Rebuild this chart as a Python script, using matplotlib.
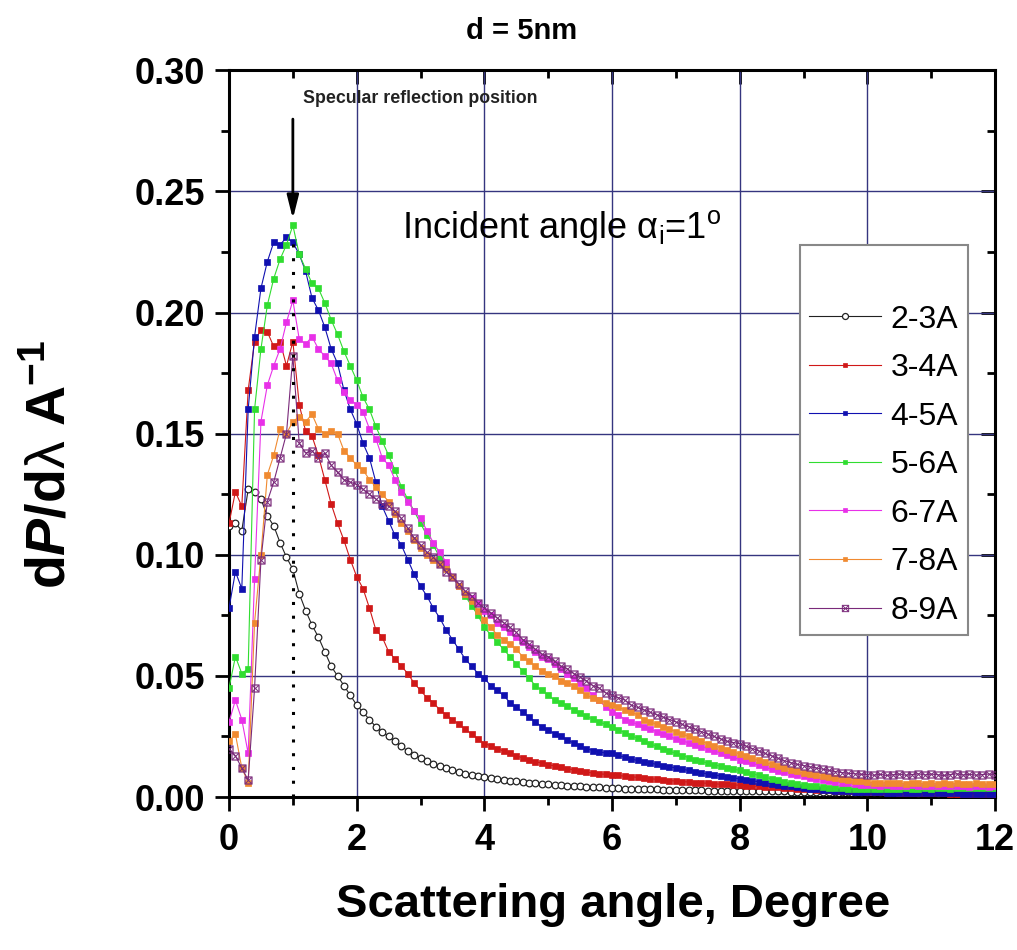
import numpy as np
import matplotlib
matplotlib.use("Agg")
import matplotlib.pyplot as plt
from matplotlib.ticker import MultipleLocator, FormatStrFormatter

plt.rcParams['font.family'] = ['Liberation Sans', 'DejaVu Sans']
plt.rcParams['mathtext.fontset'] = 'custom'
plt.rcParams['mathtext.rm'] = 'Liberation Sans'
plt.rcParams['mathtext.it'] = 'Liberation Sans:italic'
plt.rcParams['mathtext.bf'] = 'Liberation Sans:bold'
plt.rcParams['mathtext.bfit'] = 'Liberation Sans:bold:italic'

# scattering angle grid (degree), 0.1 step
angle = np.linspace(0, 12, 121)

# dP/dlambda, one list per wavelength band
wl_2_3 = [0.112, 0.113, 0.110, 0.127, 0.126, 0.123, 0.116, 0.112, 0.105, 0.099,
          0.094, 0.084, 0.077, 0.071, 0.066, 0.060, 0.054, 0.050, 0.046, 0.042,
          0.038, 0.035, 0.032, 0.029, 0.027, 0.025, 0.023, 0.021, 0.019, 0.0175,
          0.0163, 0.0150, 0.0138, 0.0127, 0.0118, 0.0110, 0.0103, 0.0097, 0.0092, 0.0087,
          0.0083, 0.0079, 0.0075, 0.0071, 0.0068, 0.0066, 0.0063, 0.0060, 0.0057, 0.0055,
          0.0053, 0.0050, 0.0048, 0.0047, 0.0045, 0.0044, 0.0042, 0.0041, 0.0040, 0.0038,
          0.0037, 0.0036, 0.0035, 0.0035, 0.0034, 0.0033, 0.0032, 0.0032, 0.0031, 0.0030,
          0.0030, 0.0029, 0.0029, 0.0028, 0.0028, 0.0027, 0.0027, 0.0026, 0.0026, 0.0025,
          0.0025, 0.0025, 0.0024, 0.0024, 0.0024, 0.0023, 0.0023, 0.0023, 0.0022, 0.0022,
          0.0022, 0.0022, 0.0021, 0.0021, 0.0021, 0.0021, 0.0020, 0.0020, 0.0020, 0.0020,
          0.0020, 0.0019, 0.0020, 0.0019, 0.0019, 0.0020, 0.0019, 0.0019, 0.0018, 0.0019,
          0.0019, 0.0018, 0.0019, 0.0018, 0.0018, 0.0019, 0.0018, 0.0018, 0.0018, 0.0017,
          0.0018]
wl_3_4 = [0.113, 0.126, 0.120, 0.168, 0.188, 0.193, 0.192, 0.186, 0.188, 0.178,
          0.188, 0.162, 0.151, 0.149, 0.141, 0.131, 0.121, 0.113, 0.106, 0.098,
          0.091, 0.086, 0.078, 0.069, 0.066, 0.060, 0.057, 0.054, 0.051, 0.047,
          0.044, 0.041, 0.039, 0.036, 0.034, 0.032, 0.030, 0.028, 0.026, 0.024,
          0.022, 0.0212, 0.0200, 0.0190, 0.0180, 0.0170, 0.0162, 0.0153, 0.0146, 0.0140,
          0.0134, 0.0128, 0.0122, 0.0117, 0.0112, 0.0107, 0.0103, 0.0099, 0.0096, 0.0094,
          0.0092, 0.0089, 0.0086, 0.0084, 0.0081, 0.0078, 0.0076, 0.0073, 0.0071, 0.0068,
          0.0066, 0.0064, 0.0062, 0.0060, 0.0058, 0.0057, 0.0055, 0.0053, 0.0052, 0.0050,
          0.0049, 0.0047, 0.0046, 0.0044, 0.0043, 0.0041, 0.0040, 0.0038, 0.0037, 0.0035,
          0.0034, 0.0033, 0.0031, 0.0030, 0.0028, 0.0027, 0.0026, 0.0025, 0.0024, 0.0023,
          0.0022, 0.0021, 0.0020, 0.0019, 0.0019, 0.0018, 0.0017, 0.0017, 0.0016, 0.0016,
          0.0015, 0.0015, 0.0015, 0.0014, 0.0014, 0.0014, 0.0013, 0.0013, 0.0013, 0.0013,
          0.0012]
wl_4_5 = [0.078, 0.093, 0.086, 0.160, 0.190, 0.210, 0.221, 0.229, 0.228, 0.231,
          0.229, 0.224, 0.217, 0.206, 0.201, 0.194, 0.185, 0.179, 0.168, 0.160,
          0.154, 0.146, 0.140, 0.130, 0.120, 0.114, 0.108, 0.104, 0.098, 0.092,
          0.087, 0.083, 0.078, 0.074, 0.069, 0.065, 0.061, 0.057, 0.054, 0.051,
          0.049, 0.046, 0.044, 0.042, 0.039, 0.037, 0.035, 0.033, 0.031, 0.029,
          0.0275, 0.0262, 0.0250, 0.0236, 0.0222, 0.0210, 0.0200, 0.0192, 0.0186, 0.0182,
          0.0180, 0.0172, 0.0164, 0.0157, 0.0151, 0.0145, 0.0140, 0.0135, 0.0130, 0.0125,
          0.0120, 0.0115, 0.0110, 0.0105, 0.0100, 0.0095, 0.0091, 0.0087, 0.0083, 0.0079,
          0.0075, 0.0071, 0.0067, 0.0063, 0.0059, 0.0055, 0.0051, 0.0047, 0.0044, 0.0041,
          0.0038, 0.0035, 0.0033, 0.0030, 0.0028, 0.0026, 0.0024, 0.0023, 0.0022, 0.0021,
          0.0020, 0.0019, 0.0019, 0.0018, 0.0018, 0.0017, 0.0017, 0.0017, 0.0016, 0.0016,
          0.0016, 0.0015, 0.0015, 0.0015, 0.0015, 0.0014, 0.0014, 0.0014, 0.0014, 0.0013,
          0.0013]
wl_5_6 = [0.045, 0.058, 0.051, 0.053, 0.160, 0.185, 0.203, 0.214, 0.222, 0.228,
          0.236, 0.224, 0.218, 0.212, 0.210, 0.204, 0.197, 0.191, 0.184, 0.178,
          0.172, 0.165, 0.160, 0.153, 0.147, 0.141, 0.135, 0.128, 0.123, 0.118,
          0.113, 0.108, 0.104, 0.099, 0.095, 0.091, 0.087, 0.083, 0.079, 0.075,
          0.070, 0.067, 0.064, 0.061, 0.058, 0.055, 0.052, 0.049, 0.046, 0.044,
          0.042, 0.040, 0.039, 0.0375, 0.036, 0.0347, 0.0334, 0.0321, 0.0310, 0.0300,
          0.0290, 0.0278, 0.0266, 0.0254, 0.0242, 0.0230, 0.0220, 0.0209, 0.0199, 0.0189,
          0.0180, 0.0171, 0.0163, 0.0155, 0.0147, 0.0140, 0.0133, 0.0127, 0.0121, 0.0115,
          0.0110, 0.0103, 0.0096, 0.0089, 0.0082, 0.0075, 0.0069, 0.0063, 0.0058, 0.0054,
          0.0050, 0.0047, 0.0044, 0.0041, 0.0039, 0.0038, 0.0036, 0.0035, 0.0034, 0.0033,
          0.0032, 0.0033, 0.0034, 0.0033, 0.0035, 0.0034, 0.0036, 0.0035, 0.0034, 0.0036,
          0.0035, 0.0037, 0.0036, 0.0035, 0.0037, 0.0036, 0.0038, 0.0036, 0.0037, 0.0036,
          0.0037]
wl_6_7 = [0.031, 0.040, 0.032, 0.018, 0.090, 0.155, 0.170, 0.178, 0.185, 0.196,
          0.205, 0.189, 0.187, 0.190, 0.185, 0.182, 0.179, 0.172, 0.167, 0.164,
          0.162, 0.159, 0.152, 0.148, 0.140, 0.137, 0.131, 0.126, 0.122, 0.118,
          0.115, 0.110, 0.105, 0.101, 0.097, 0.091, 0.087, 0.084, 0.082, 0.080,
          0.077, 0.075, 0.072, 0.070, 0.068, 0.066, 0.064, 0.062, 0.060, 0.058,
          0.057, 0.055, 0.053, 0.051, 0.049, 0.047, 0.045, 0.042, 0.040, 0.037,
          0.035, 0.034, 0.032, 0.031, 0.030, 0.029, 0.028, 0.027, 0.026, 0.025,
          0.024, 0.0232, 0.0224, 0.0216, 0.0208, 0.0200, 0.0191, 0.0182, 0.0173, 0.0164,
          0.0155, 0.0147, 0.0139, 0.0131, 0.0123, 0.0115, 0.0109, 0.0103, 0.0097, 0.0091,
          0.0085, 0.0080, 0.0075, 0.0071, 0.0066, 0.0062, 0.0059, 0.0056, 0.0053, 0.0051,
          0.0050, 0.0048, 0.0047, 0.0049, 0.0046, 0.0047, 0.0045, 0.0048, 0.0046, 0.0045,
          0.0047, 0.0045, 0.0046, 0.0044, 0.0046, 0.0045, 0.0043, 0.0045, 0.0044, 0.0043,
          0.0044]
wl_7_8 = [0.023, 0.026, 0.012, 0.006, 0.072, 0.100, 0.133, 0.141, 0.152, 0.150,
          0.155, 0.157, 0.155, 0.158, 0.152, 0.150, 0.151, 0.150, 0.143, 0.140,
          0.137, 0.135, 0.131, 0.128, 0.125, 0.122, 0.117, 0.113, 0.110, 0.106,
          0.103, 0.100, 0.098, 0.096, 0.094, 0.091, 0.087, 0.084, 0.081, 0.077,
          0.073, 0.070, 0.067, 0.065, 0.063, 0.061, 0.058, 0.056, 0.054, 0.052,
          0.051, 0.050, 0.048, 0.047, 0.046, 0.044, 0.042, 0.041, 0.040, 0.039,
          0.038, 0.037, 0.036, 0.035, 0.034, 0.032, 0.031, 0.030, 0.029, 0.028,
          0.027, 0.026, 0.025, 0.024, 0.023, 0.022, 0.0212, 0.0203, 0.0194, 0.0186,
          0.0178, 0.0169, 0.0160, 0.0151, 0.0143, 0.0135, 0.0128, 0.0120, 0.0113, 0.0106,
          0.0100, 0.0095, 0.0090, 0.0086, 0.0082, 0.0078, 0.0074, 0.0071, 0.0068, 0.0065,
          0.0062, 0.0060, 0.0058, 0.0059, 0.0056, 0.0057, 0.0055, 0.0058, 0.0056, 0.0054,
          0.0056, 0.0055, 0.0057, 0.0054, 0.0056, 0.0055, 0.0053, 0.0056, 0.0054, 0.0053,
          0.0055]
wl_8_9 = [0.020, 0.017, 0.012, 0.007, 0.045, 0.098, 0.122, 0.130, 0.140, 0.150,
          0.182, 0.146, 0.142, 0.143, 0.140, 0.142, 0.137, 0.134, 0.131, 0.130,
          0.129, 0.127, 0.125, 0.123, 0.121, 0.120, 0.118, 0.115, 0.111, 0.107,
          0.104, 0.101, 0.099, 0.096, 0.093, 0.091, 0.088, 0.085, 0.083, 0.080,
          0.078, 0.076, 0.074, 0.072, 0.070, 0.068, 0.065, 0.063, 0.061, 0.059,
          0.058, 0.056, 0.054, 0.053, 0.051, 0.0495, 0.048, 0.046, 0.045, 0.043,
          0.042, 0.041, 0.040, 0.038, 0.037, 0.036, 0.035, 0.034, 0.033, 0.032,
          0.031, 0.030, 0.029, 0.028, 0.027, 0.026, 0.025, 0.024, 0.023, 0.0225,
          0.0220, 0.0210, 0.0200, 0.0190, 0.0180, 0.0170, 0.0160, 0.0150, 0.0142, 0.0135,
          0.0130, 0.0125, 0.0120, 0.0115, 0.0110, 0.0105, 0.0101, 0.0098, 0.0096, 0.0094,
          0.0093, 0.0090, 0.0094, 0.0089, 0.0092, 0.0095, 0.0090, 0.0093, 0.0096, 0.0091,
          0.0095, 0.0092, 0.0089, 0.0093, 0.0096, 0.0091, 0.0094, 0.0090, 0.0093, 0.0095,
          0.0092]

labels = ['2-3A', '3-4A', '4-5A', '5-6A', '6-7A', '7-8A', '8-9A']
series = [wl_2_3, wl_3_4, wl_4_5, wl_5_6, wl_6_7, wl_7_8, wl_8_9]
colors = ['#222222', '#d01818', '#1010b0', '#30dd30', '#e830e8', '#f08a30', '#7a2a7a']
markers = ['o', 's', 's', 's', 's', 's', '$\\boxtimes$']

spec_angle = 1.0   # specular reflection position, degree

fig = plt.figure(figsize=(10.17, 9.5), dpi=100)
ax = fig.add_axes([0.2252, 0.161, 0.7532, 0.765])

for y, lab, c, m in zip(series, labels, colors, markers):
    if m == 'o':
        ax.plot(angle, y, '-', color=c, lw=0.8, marker=m, ms=4.8, mfc='white',
                mec=c, mew=0.9, label=lab, zorder=3)
    elif m == 's':
        ax.plot(angle, y, '-', color=c, lw=0.8, marker=m, ms=3.8, mfc=c,
                mec=c, mew=0.5, label=lab, zorder=3)
    else:
        ax.plot(angle, y, '-', color=c, lw=0.8, marker=m, ms=5.5, mfc=c,
                mec=c, mew=0.3, label=lab, zorder=3)

ax.vlines(spec_angle, 0, 0.232, colors='k', linestyles=(0, (1, 3.5)), lw=2.2, zorder=4)
ax.annotate('', xy=(spec_angle, 0.2375), xytext=(spec_angle, 0.281),
            arrowprops=dict(arrowstyle='-|>,head_width=0.35,head_length=1.4',
                            color='k', lw=2), zorder=5)
ax.text(2.99, 0.2885, 'Specular reflection position', ha='center', va='center',
        fontsize=12.8, fontweight='bold', color='#222222')
ax.text(2.71, 0.2348, r'Incident angle $\mathrm{\alpha}_\mathrm{i}$=1$^\mathrm{o}$',
        ha='left', va='center', fontsize=26)

ax.set_xlim(0, 12)
ax.set_ylim(0, 0.30)
ax.xaxis.set_major_locator(MultipleLocator(2))
ax.xaxis.set_minor_locator(MultipleLocator(1))
ax.yaxis.set_major_locator(MultipleLocator(0.05))
ax.yaxis.set_minor_locator(MultipleLocator(0.025))
ax.yaxis.set_major_formatter(FormatStrFormatter('%.2f'))
ax.grid(True, which='major', color='#35357f', lw=1.0)
ax.set_axisbelow(True)

ax.tick_params(which='both', direction='out', width=2, labelsize=26)
ax.tick_params(which='major', length=10)
ax.tick_params(which='minor', length=6)
ax.tick_params(axis='x', which='major', pad=9)
ax.tick_params(axis='y', which='major', pad=7)
for lab in ax.get_xticklabels() + ax.get_yticklabels():
    lab.set_fontweight('bold')
for s in ax.spines.values():
    s.set_linewidth(2.2)

top = ax.secondary_xaxis('top')
top.xaxis.set_major_locator(MultipleLocator(2))
top.xaxis.set_minor_locator(MultipleLocator(1))
top.tick_params(which='both', direction='in', width=2, labeltop=False)
top.tick_params(which='major', length=10)
top.tick_params(which='minor', length=6)
right = ax.secondary_yaxis('right')
right.yaxis.set_major_locator(MultipleLocator(0.05))
right.yaxis.set_minor_locator(MultipleLocator(0.025))
right.tick_params(which='both', direction='in', width=2, labelright=False)
right.tick_params(which='major', length=10)
right.tick_params(which='minor', length=6)

leg = ax.legend(loc='upper left', bbox_to_anchor=(0.745, 0.759), borderaxespad=0,
                fontsize=23, title=' ', title_fontsize=24, handlelength=2.25,
                handletextpad=0.3, borderpad=0.3, labelspacing=0.58,
                fancybox=False, framealpha=1, edgecolor='#888888', numpoints=1,
                markerscale=0.9)
leg.get_frame().set_linewidth(1.5)

fig.text(0.513, 0.967, 'd = 5nm', ha='center', va='center', fontsize=21,
         fontweight='bold')
fig.text(0.603, 0.047, 'Scattering angle, Degree', ha='center', va='center',
         fontsize=34, fontweight='bold')
fig.text(0.05, 0.511, r'd$\mathbfit{P}$/d$\mathrm{\lambda}$ A$^{\mathbf{-1}}$',
         ha='center', va='center', rotation=90, fontsize=40, fontweight='bold')

fig.savefig('out.png', dpi=100)
